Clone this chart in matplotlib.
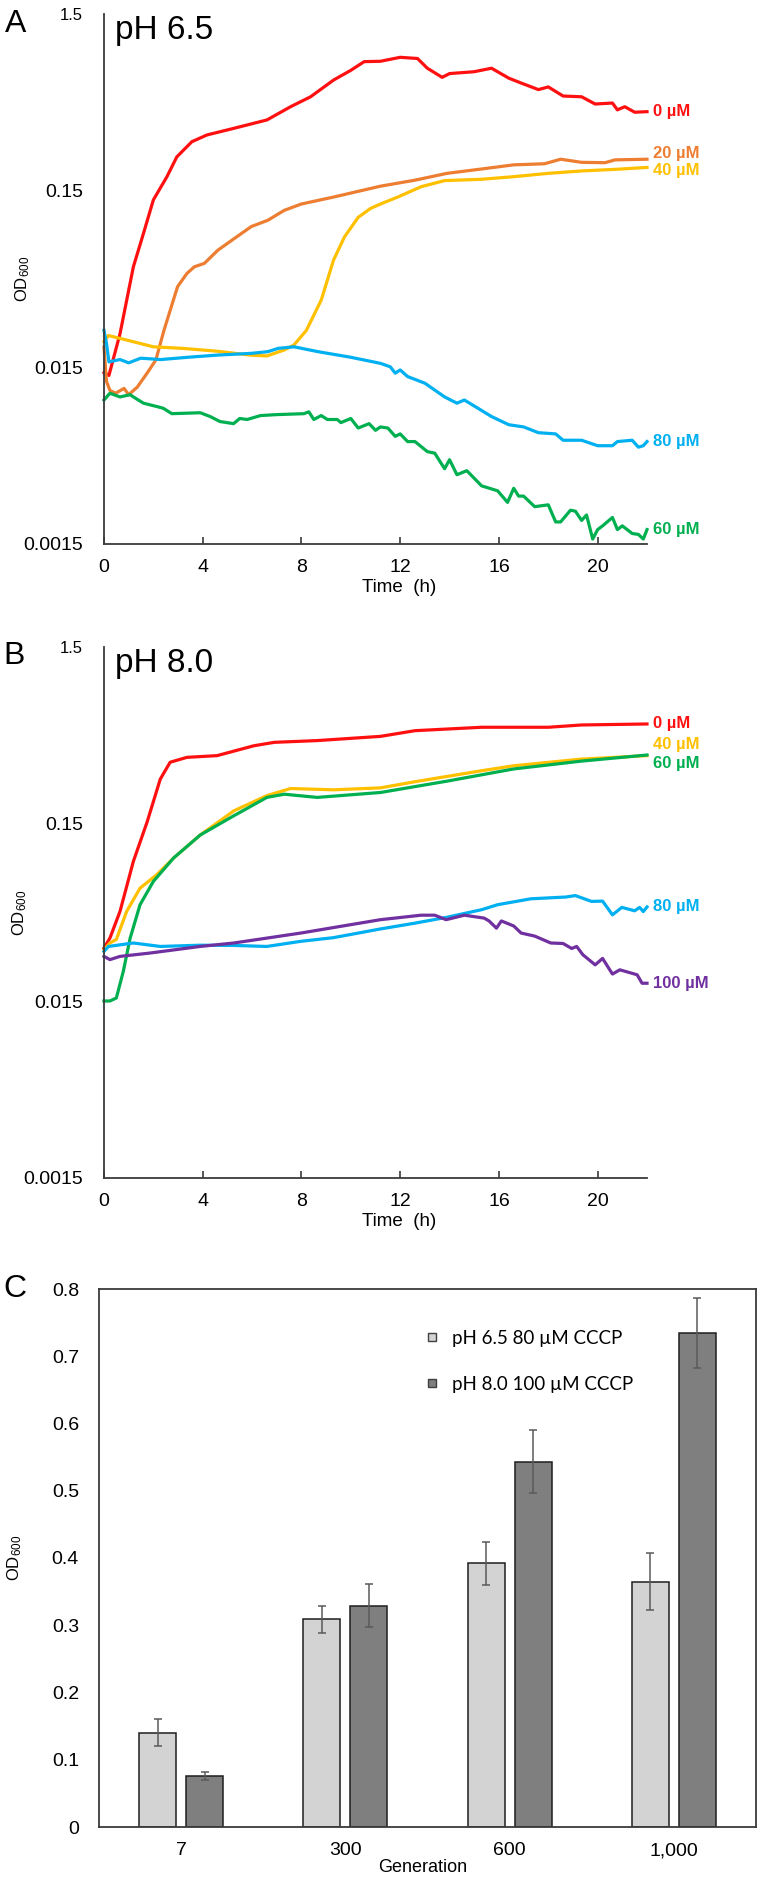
import matplotlib
matplotlib.use('Agg')
import numpy as np
import matplotlib.pyplot as plt
from matplotlib.lines import Line2D

plt.rcParams['font.family'] = ['Liberation Sans', 'DejaVu Sans']
plt.rcParams['mathtext.default'] = 'regular'

# ---------------- data: panel A (pH 6.5) ----------------
a_t_0 = [0, 0.2, 0.65, 1.19, 1.6, 2.0, 2.55, 2.95, 3.56, 4.17, 5.26, 6.6, 7.56, 8.37, 9.3,
         10.0, 10.54, 11.2, 12.0, 12.7, 13.1, 13.7, 14.0, 15.0, 15.7, 16.4, 16.9, 17.6, 18.0,
         18.6, 19.35, 19.9, 20.6, 20.8, 21.1, 21.5, 22.0]
a_od_0 = [0.014, 0.0135, 0.0233, 0.0556, 0.086, 0.133, 0.18, 0.233, 0.284, 0.31, 0.338, 0.377, 0.448, 0.51, 0.634,
          0.72, 0.806, 0.81, 0.853, 0.84, 0.74, 0.657, 0.69, 0.707, 0.74, 0.65, 0.61, 0.56, 0.58,
          0.515, 0.51, 0.464, 0.47, 0.43, 0.448, 0.417, 0.42]

a_t_20 = [0, 0.1, 0.24, 0.47, 0.81, 1.0, 1.35, 1.76, 2.1, 2.43, 2.98, 3.36, 3.66, 4.07, 4.61,
          5.29, 5.97, 6.64, 7.3, 7.99, 9.3, 11.2, 12.6, 13.9, 15.3, 16.6, 17.85, 18.5, 19.35,
          20.3, 20.7, 22.0]
a_od_20 = [0.0195, 0.0125, 0.0111, 0.0107, 0.0114, 0.0105, 0.0116, 0.014, 0.0165, 0.0243, 0.0429, 0.051, 0.0556, 0.0582, 0.069,
           0.0806, 0.094, 0.102, 0.116, 0.126, 0.138, 0.159, 0.172, 0.188, 0.199, 0.21, 0.213, 0.226, 0.217,
           0.216, 0.224, 0.226]

a_t_40 = [0, 0.18, 0.92, 2.0, 3.2, 4.6, 5.9, 6.6, 7.3, 7.7, 8.2, 8.8, 9.3, 9.74, 10.3,
          10.8, 11.2, 11.9, 12.85, 13.8, 15.3, 16.6, 18.0, 19.35, 20.7, 22.0]
a_od_40 = [0.021, 0.0227, 0.0214, 0.0196, 0.0192, 0.0185, 0.0176, 0.0174, 0.0188, 0.0201, 0.0243, 0.036, 0.0607, 0.082, 0.106,
           0.119, 0.126, 0.138, 0.158, 0.171, 0.174, 0.18, 0.188, 0.194, 0.198, 0.203]

a_t_60 = [0, 0.24, 0.65, 1.06, 1.19,
          1.6, 2.14, 2.4, 2.75, 3.9,
          4.3, 4.7, 5.25, 5.5, 5.8,
          6.34, 7.0, 8.1, 8.3, 8.5,
          8.8, 9.05, 9.45, 9.6, 10.0,
          10.3, 10.74, 11.0, 11.2, 11.5,
          11.8, 12.0, 12.3, 12.6, 13.1,
          13.4, 13.8, 14.0, 14.3, 14.7,
          15.3, 15.95, 16.35, 16.6, 16.8,
          17.0, 17.45, 18.0, 18.3, 18.5,
          18.9, 19.1, 19.35, 19.55, 19.8,
          20.0, 20.2, 20.6, 20.8, 21.0,
          21.4, 21.65, 21.85, 22.0]
a_od_60 = [0.0098, 0.0107, 0.0102, 0.0105, 0.0102,
           0.0094, 0.0090, 0.0088, 0.0082, 0.0083,
           0.0079, 0.0074, 0.0072, 0.0077, 0.0076,
           0.0080, 0.0081, 0.0082, 0.0084, 0.0076,
           0.0080, 0.0076, 0.0076, 0.0073, 0.0077,
           0.0068, 0.0072, 0.0066, 0.0069, 0.0068,
           0.0061, 0.0063, 0.0057, 0.0057, 0.0050,
           0.0049, 0.0040, 0.0045, 0.0037, 0.0039,
           0.0032, 0.0030, 0.00258, 0.0031, 0.0028,
           0.0028, 0.00244, 0.0025, 0.0020, 0.0020,
           0.00233, 0.0023, 0.00204, 0.00219, 0.0016,
           0.00181, 0.0019, 0.00212, 0.00181, 0.0019,
           0.00172, 0.0017, 0.0016, 0.00181]

a_t_80 = [0, 0.1, 0.2, 0.65, 1.0, 1.49, 2.3, 3.39, 4.61, 5.97, 6.64, 7.05, 7.7, 8.67, 10.0,
          11.2, 11.6, 11.8, 12.0, 12.3, 13.0, 13.8, 14.3, 14.6, 15.7, 16.4, 17.0, 17.6, 18.3,
          18.6, 19.35, 20.0, 20.6, 20.8, 21.4, 21.65, 21.85, 22.0]
a_od_80 = [0.0243, 0.0205, 0.0161, 0.0166, 0.0159, 0.0169, 0.0166, 0.0171, 0.0176, 0.018, 0.0184, 0.0192, 0.0196, 0.0184, 0.0171,
           0.0158, 0.0151, 0.0139, 0.0145, 0.0133, 0.0122, 0.0102, 0.0094, 0.0098, 0.0079, 0.0071, 0.0069, 0.0064, 0.0063,
           0.0058, 0.0058, 0.0054, 0.0054, 0.0057, 0.0058, 0.0053, 0.0054, 0.0057]

# ---------------- data: panel B (pH 8.0) ----------------
b_t_0 = [0, 0.24, 0.65, 1.19, 1.74, 2.28, 2.68, 3.36, 4.58, 6.07, 6.9, 8.64, 11.2, 12.6, 15.3, 18.0, 19.35, 22.0]
b_od_0 = [0.0299, 0.034, 0.0482, 0.0923, 0.153, 0.269, 0.335, 0.357, 0.365, 0.415, 0.434, 0.444, 0.469, 0.505, 0.528, 0.528, 0.544, 0.551]

b_t_40 = [0, 0.24, 0.5, 0.92, 1.46, 2.14, 2.82, 3.9, 5.26, 6.6, 7.56, 9.3, 11.2, 12.6, 15.3, 16.6, 19.35, 22.0]
b_od_40 = [0.0292, 0.0319, 0.0334, 0.0482, 0.0651, 0.0776, 0.0964, 0.130, 0.178, 0.217, 0.238, 0.234, 0.24, 0.26, 0.30, 0.32, 0.349, 0.365]

b_t_60 = [0, 0.24, 0.5, 0.78, 1.06, 1.46, 2.0, 2.82, 3.9, 5.26, 6.6, 7.3, 8.64, 11.2, 13.9, 16.6, 19.35, 22.0]
b_od_60 = [0.015, 0.015, 0.0156, 0.022, 0.034, 0.0525, 0.0711, 0.0964, 0.130, 0.167, 0.212, 0.221, 0.212, 0.226, 0.262, 0.307, 0.34, 0.368]

b_t_80 = [0, 0.18, 1.19, 2.28, 3.9, 5.26, 6.6, 7.97, 9.3, 11.2, 12.6, 13.9, 15.3, 15.95, 17.3,
          18.7, 19.1, 19.75, 20.2, 20.6, 20.98, 21.5, 21.7, 21.85, 22.0]
b_od_80 = [0.0286, 0.0305, 0.0319, 0.0305, 0.031, 0.0309, 0.0305, 0.0326, 0.0342, 0.0383, 0.0413, 0.0446, 0.0492, 0.0525, 0.0567,
           0.058, 0.0591, 0.0548, 0.055, 0.046, 0.0507, 0.0485, 0.0507, 0.048, 0.051]

b_t_100 = [0, 0.24, 0.65, 1.87, 3.9,
           5.26, 6.6, 7.97, 9.3, 11.2,
           12.85, 13.4, 13.86, 14.6, 15.4,
           15.6, 15.9, 16.1, 16.6, 16.9,
           17.45, 18.1, 18.6, 18.95, 19.15,
           19.4, 19.9, 20.2, 20.6, 20.9,
           21.6, 21.8, 22.0]
b_od_100 = [0.0268, 0.0257, 0.0268, 0.028, 0.0305,
            0.0319, 0.034, 0.0363, 0.039, 0.0432,
            0.0458, 0.0458, 0.0432, 0.0458, 0.0441,
            0.0425, 0.0387, 0.0425, 0.0398, 0.0363,
            0.0349, 0.0319, 0.0317, 0.0297, 0.0305,
            0.0274, 0.024, 0.0261, 0.0213, 0.0225,
            0.0211, 0.0189, 0.0189]

growth_yticks = [0.0015, 0.015, 0.15, 1.5]
growth_yticklabels = ['0.0015', '0.015', '0.15', '1.5']
growth_xticks = [0, 4, 8, 12, 16, 20]

# ---------------- data: panel C ----------------
c_generations = ['7', '300', '600', '1,000']
c_ph65 = [0.140, 0.309, 0.392, 0.365]
c_ph65_err = [0.020, 0.020, 0.032, 0.043]
c_ph80 = [0.076, 0.329, 0.543, 0.735]
c_ph80_err = [0.006, 0.032, 0.047, 0.052]
c_yticks = [0, 0.1, 0.2, 0.3, 0.4, 0.5, 0.6, 0.7, 0.8]
c_yticklabels = ['0', '0.1', '0.2', '0.3', '0.4', '0.5', '0.6', '0.7', '0.8']
c_series_names = ['pH 6.5 80 \u00b5M CCCP', 'pH 8.0 100 \u00b5M CCCP']

# ---------------- style ----------------
RED, ORANGE, YELLOW = '#ff1010', '#ed7d31', '#ffc000'
GREEN, BLUE, PURPLE = '#00b050', '#00b0f0', '#7030a0'
SPINE = '#3a3a3a'
LIGHT, DARK = '#d3d3d3', '#7f7f7f'

W, H = 760, 1880
fig = plt.figure(figsize=(W / 100, H / 100), dpi=100)


def rect(l, t, r, b):
    return [l / W, 1 - b / H, (r - l) / W, (b - t) / H]


axA = fig.add_axes(rect(104, 14, 647, 544))
axB = fig.add_axes(rect(104, 647, 647, 1178))
axC = fig.add_axes(rect(99, 1289, 756, 1827))


def growth_panel(ax, series, title, ylab_x, axh):
    for t, od, color, lab, dy in series:
        ax.plot(t, od, color=color, lw=2.3, solid_joinstyle='round', clip_on=False)
        ax.annotate(lab, xy=(t[-1], od[-1]), xytext=(4.5, dy), textcoords='offset points',
                    color=color, fontweight='bold', fontsize=12, ha='left', va='center',
                    annotation_clip=False)
    ax.set_yscale('log')
    ax.set_ylim(0.0015, 1.5)
    ax.set_xlim(0, 22.0)
    ax.set_yticks(growth_yticks)
    ax.set_yticklabels(growth_yticklabels)
    ax.minorticks_off()
    ax.set_xticks(growth_xticks)
    for s in ('top', 'right'):
        ax.spines[s].set_visible(False)
    for s in ('left', 'bottom'):
        ax.spines[s].set_color(SPINE)
        ax.spines[s].set_linewidth(1.3)
    ax.tick_params(axis='x', direction='in', length=5, width=1.2, color=SPINE,
                   labelsize=14, pad=11)
    ax.tick_params(axis='y', length=0, labelsize=14, pad=15)
    ax.get_yticklabels()[-1].set_fontsize(12)
    ax.text(0.02, 0.952, title, transform=ax.transAxes, fontsize=24, va='baseline', ha='left')
    ax.set_xlabel('Time  (h)', fontsize=13.5, va='center')
    ax.xaxis.set_label_coords(0.543, -43 / axh)
    ax.set_ylabel('OD$_{600}$', fontsize=12, va='center')
    ax.yaxis.set_label_coords(ylab_x, 0.5)


growth_panel(axA, [
    (a_t_0, a_od_0, RED, '0 \u00b5M', 0),
    (a_t_20, a_od_20, ORANGE, '20 \u00b5M', 4.3),
    (a_t_40, a_od_40, YELLOW, '40 \u00b5M', -2.2),
    (a_t_60, a_od_60, GREEN, '60 \u00b5M', 0),
    (a_t_80, a_od_80, BLUE, '80 \u00b5M', 0),
], 'pH 6.5', (23 - 104) / 543, 530)

growth_panel(axB, [
    (b_t_0, b_od_0, RED, '0 \u00b5M', 0),
    (b_t_40, b_od_40, YELLOW, '40 \u00b5M', 7.7),
    (b_t_60, b_od_60, GREEN, '60 \u00b5M', -5.8),
    (b_t_80, b_od_80, BLUE, '80 \u00b5M', 0),
    (b_t_100, b_od_100, PURPLE, '100 \u00b5M', 0),
], 'pH 8.0', (20 - 104) / 543, 531)

# ---------------- panel C ----------------
x = np.arange(len(c_generations))
bw, off = 0.225, 0.143
err_kw = dict(ecolor='#5a5a5a', elinewidth=1.1, capsize=2.9, capthick=1.1)
axC.bar(x - off, c_ph65, width=bw, color=LIGHT, edgecolor='#1e1e1e', linewidth=1.1,
        yerr=c_ph65_err, error_kw=err_kw, zorder=2)
axC.bar(x + off, c_ph80, width=bw, color=DARK, edgecolor='#1e1e1e', linewidth=1.1,
        yerr=c_ph80_err, error_kw=err_kw, zorder=2)
axC.set_xlim(-0.5, len(c_generations) - 0.5)
axC.set_ylim(0, 0.8)
axC.set_yticks(c_yticks)
axC.set_yticklabels(c_yticklabels)
axC.set_xticks(x)
axC.set_xticklabels(c_generations)
axC.tick_params(axis='both', length=0, labelsize=14)
axC.tick_params(axis='y', pad=14.4)
axC.tick_params(axis='x', pad=11)
for s in axC.spines.values():
    s.set_color(SPINE)
    s.set_linewidth(1.3)
axC.set_xlabel('Generation', fontsize=13, va='center')
axC.xaxis.set_label_coords(0.493, -41 / 538)
axC.set_ylabel('OD$_{600}$', fontsize=12, va='center')
axC.yaxis.set_label_coords((15 - 99) / 657, 0.5)

handles = [Line2D([], [], marker='s', ls='none', markersize=5.5, markerfacecolor=LIGHT,
                  markeredgecolor='#404040', markeredgewidth=1),
           Line2D([], [], marker='s', ls='none', markersize=5.5, markerfacecolor=DARK,
                  markeredgecolor='#404040', markeredgewidth=1)]
axC.legend(handles, c_series_names, loc='upper left', bbox_to_anchor=(0.4926, 0.924),
           frameon=False, borderpad=0, borderaxespad=0, handlelength=1.0,
           handletextpad=0.57, labelspacing=1.53,
           prop={'family': 'Lato', 'size': 13.5})

# panel letters
fig.text(5 / W, 1 - 32 / H, 'A', fontsize=23, ha='left', va='baseline')
fig.text(3 / W, 1 - 664 / H, 'B', fontsize=23, ha='left', va='baseline')
fig.text(3 / W, 1 - 1297 / H, 'C', fontsize=23, ha='left', va='baseline')

fig.savefig('out.png', dpi=100)
